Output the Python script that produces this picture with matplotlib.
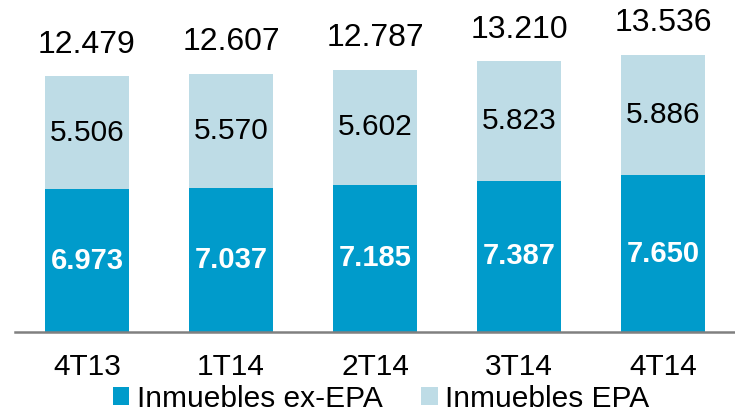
import matplotlib
matplotlib.use("Agg")
import matplotlib.pyplot as plt
import numpy as np

categories = ["4T13", "1T14", "2T14", "3T14", "4T14"]
ex_epa = [6973, 7037, 7185, 7387, 7650]
epa = [5506, 5570, 5602, 5823, 5886]
series_names = ["Inmuebles ex-EPA", "Inmuebles EPA"]

dark = "#009BCB"
light = "#BEDCE6"

plt.rcParams["font.family"] = ["Liberation Sans", "DejaVu Sans"]

def fmt(v):
    return f"{v:,}".replace(",", ".")

fig = plt.figure(figsize=(7.35, 4.12), dpi=100)
ax = fig.add_axes([15 / 735, 80 / 412, 720 / 735, 332 / 412])

x = np.arange(len(categories))
totals = [a + b for a, b in zip(ex_epa, epa)]
w = 0.585
b1 = ax.bar(x, ex_epa, width=w, color=dark, label=series_names[0])
b2 = ax.bar(x, epa, width=w, bottom=ex_epa, color=light, label=series_names[1])

for xi, a, b, t in zip(x, ex_epa, epa, totals):
    ax.text(xi, a / 2, fmt(a), ha="center", va="center", color="white",
            fontsize=21, fontweight="bold")
    ax.text(xi, a + b / 2, fmt(b), ha="center", va="center", color="black",
            fontsize=21.5)
    ax.annotate(fmt(t), (xi, t), xytext=(0, 12), textcoords="offset points",
                ha="center", va="bottom", fontsize=23, color="black")

ax.set_xlim(-0.5, len(categories) - 0.5)
ax.set_ylim(0, 16195)
ax.set_yticks([])
ax.set_xticks(x)
ax.set_xticklabels(categories, fontsize=21.5)
ax.tick_params(axis="x", length=0, pad=15)
for s in ["top", "right", "left"]:
    ax.spines[s].set_visible(False)
ax.spines["bottom"].set_color("#808080")
ax.spines["bottom"].set_linewidth(1.8)

fig.legend(handles=[b1, b2], labels=series_names, loc="center",
           bbox_to_anchor=(381 / 735, 13 / 412), ncol=2, frameon=False,
           fontsize=21.5, handlelength=0.55, handleheight=0.55,
           handletextpad=0.25, columnspacing=1.3, borderpad=0.0,
           borderaxespad=0.0)

fig.savefig("out.png", dpi=100)
